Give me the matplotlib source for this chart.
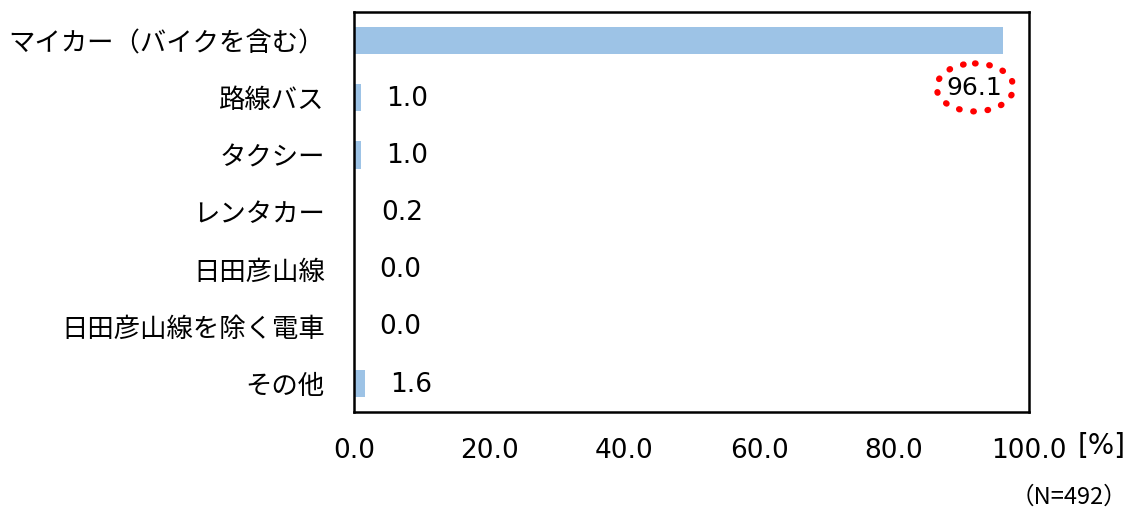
import matplotlib
matplotlib.use("Agg")
import matplotlib.pyplot as plt
from matplotlib.patches import Ellipse

plt.rcParams['font.family'] = ['Noto Sans CJK JP', 'DejaVu Sans']
NUM_FONT = ['DejaVu Sans']

categories = ["マイカー（バイクを含む）", "路線バス", "タクシー", "レンタカー",
              "日田彦山線", "日田彦山線を除く電車", "その他"]
values = [96.1, 1.0, 1.0, 0.2, 0.0, 0.0, 1.6]
xticks = [0, 20, 40, 60, 80, 100]

fig = plt.figure(figsize=(11.33, 5.13), dpi=100)
ax = fig.add_axes([354 / 1133, 1 - 412 / 513, 675 / 1133, 400 / 513])

y = list(range(len(categories)))
ax.barh(y, values, height=0.48, color="#9DC3E6")
ax.set_ylim(len(categories) - 0.5, -0.5)
ax.set_xlim(0, 100)

ax.set_yticks(y)
ax.set_yticklabels(categories, fontsize=19)
ax.set_xticks(xticks)
ax.set_xticklabels([f"{t:.1f}" for t in xticks], fontsize=19, family=NUM_FONT)
ax.tick_params(axis="both", length=0)
ax.tick_params(axis="x", pad=19)
ax.tick_params(axis="y", pad=21)
for s in ax.spines.values():
    s.set_linewidth(1.8)
    s.set_color("black")

# value labels; the big one sits under its bar, circled in red dots
for yi, v in zip(y, values):
    if v > 50:
        ax.text(v - 0.1, yi + 0.83, f"{v:.1f}", ha="right", va="center",
                fontsize=18, family=NUM_FONT)
        ax.add_patch(Ellipse((v - 4.1, yi + 0.82), 11.4, 0.84, fill=False,
                             edgecolor="red", linestyle=(0, (0.1, 2.2)),
                             linewidth=4.5, capstyle="round", clip_on=False))
    else:
        ax.text(v + 3.8, yi + 0.02, f"{v:.1f}", ha="left", va="center",
                fontsize=19, family=NUM_FONT)

fig.text(1078 / 1133, 1 - 446 / 513, "[%]", fontsize=20, ha="left", va="center",
         family=NUM_FONT)
fig.text(1127 / 1133, 1 - 497 / 513, "（N=492）", fontsize=17, ha="right", va="center")

fig.savefig("out.png", dpi=100)
